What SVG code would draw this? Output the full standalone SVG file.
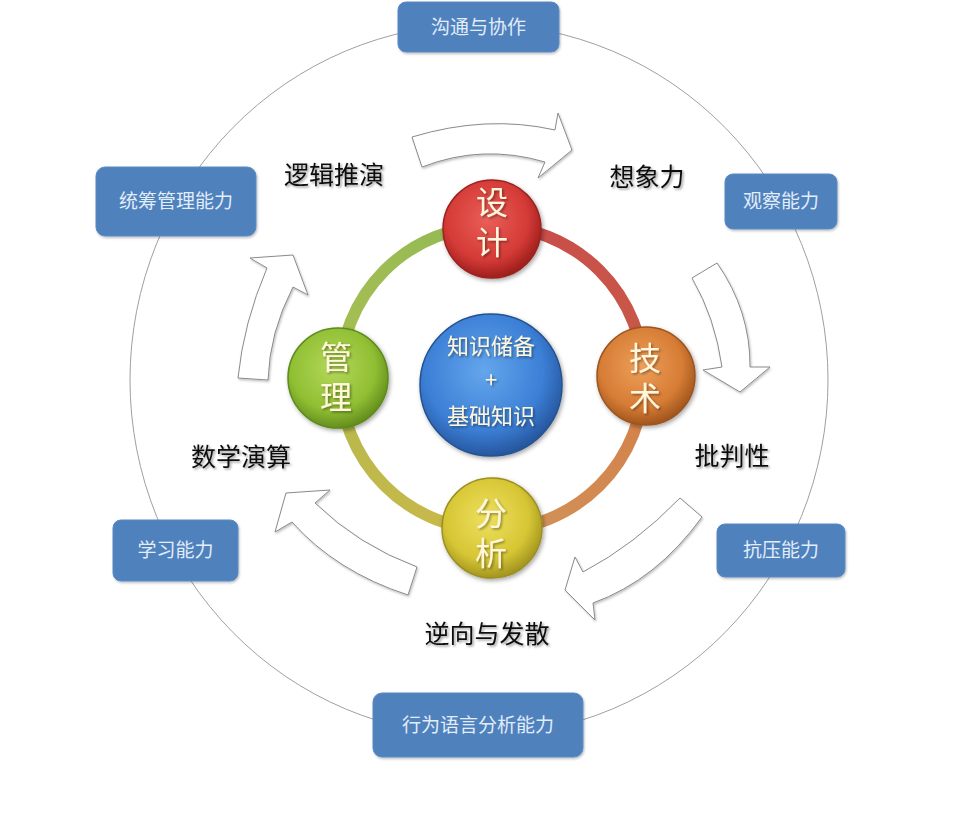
<svg xmlns="http://www.w3.org/2000/svg" width="964" height="816" viewBox="0 0 964 816">
<defs>
<filter id="sh" x="-20%" y="-20%" width="140%" height="140%"><feDropShadow dx="1.5" dy="2" stdDeviation="2" flood-color="#000" flood-opacity="0.35"/></filter>
<filter id="shs" x="-10%" y="-10%" width="120%" height="130%"><feDropShadow dx="1" dy="1.5" stdDeviation="1.2" flood-color="#000" flood-opacity="0.25"/></filter>
<filter id="tsh" x="-20%" y="-20%" width="140%" height="140%"><feDropShadow dx="1.5" dy="1.5" stdDeviation="0.8" flood-color="#000" flood-opacity="0.4"/></filter>
<radialGradient id="gRed" cx="45%" cy="40%" r="60%"><stop offset="0" stop-color="#ea5f58"/><stop offset="0.7" stop-color="#d43a36"/><stop offset="1" stop-color="#9e1f1c"/></radialGradient>
<radialGradient id="gOrg" cx="45%" cy="40%" r="60%"><stop offset="0" stop-color="#eea05a"/><stop offset="0.7" stop-color="#d67c35"/><stop offset="1" stop-color="#a2561d"/></radialGradient>
<radialGradient id="gYel" cx="45%" cy="40%" r="60%"><stop offset="0" stop-color="#eee060"/><stop offset="0.7" stop-color="#d6c634"/><stop offset="1" stop-color="#a39520"/></radialGradient>
<radialGradient id="gGrn" cx="45%" cy="40%" r="60%"><stop offset="0" stop-color="#b4d85a"/><stop offset="0.7" stop-color="#90bf33"/><stop offset="1" stop-color="#648f1e"/></radialGradient>
<radialGradient id="gBlu" cx="45%" cy="40%" r="60%"><stop offset="0" stop-color="#64a6ec"/><stop offset="0.7" stop-color="#3b7fd6"/><stop offset="1" stop-color="#27579f"/></radialGradient>
<linearGradient id="aTL" x1="0" y1="1" x2="1" y2="0"><stop offset="0" stop-color="#a9bf52"/><stop offset="1" stop-color="#92b955"/></linearGradient>
<linearGradient id="aTR" x1="0" y1="0" x2="1" y2="1"><stop offset="0" stop-color="#c94c4a"/><stop offset="1" stop-color="#c85a48"/></linearGradient>
<linearGradient id="aBR" x1="1" y1="0" x2="0" y2="1"><stop offset="0" stop-color="#d47f48"/><stop offset="1" stop-color="#d0945a"/></linearGradient>
<linearGradient id="aBL" x1="1" y1="1" x2="0" y2="0"><stop offset="0" stop-color="#cdb84a"/><stop offset="1" stop-color="#b5b94c"/></linearGradient>
</defs>
<style>
.box{fill:#4f81bd;stroke:#5a8ac4;stroke-width:1;filter:url(#shs)}
.bt{font-family:"Noto Sans CJK SC",sans-serif;font-size:19px;fill:#e2edfa;text-anchor:middle}
.lbl{font-family:"Noto Sans CJK SC",sans-serif;font-size:25px;fill:#111;text-anchor:middle;filter:url(#tsh)}
.ct{font-family:"Noto Sans CJK SC",sans-serif;font-size:32px;fill:#fff6dc;text-anchor:middle;writing-mode:vertical-rl;letter-spacing:8px;filter:url(#tsh)}
.cc{font-family:"Noto Sans CJK SC",sans-serif;font-size:22px;fill:#fff6dc;text-anchor:middle;filter:url(#tsh)}
.arw{fill:#fff;stroke:#8a8a8a;stroke-width:1;filter:url(#shs)}
.ring{fill:none;stroke-width:12}
.nd{stroke-width:1.5;filter:url(#sh)}
</style>
<rect width="964" height="816" fill="#fff"/>
<g id="connectors">
<ellipse cx="479" cy="380" rx="349" ry="356" fill="none" stroke="#a0a0a0" stroke-width="1"/>
<path class="ring" stroke="url(#aTL)" d="M340,378 A152,152 0 0 1 492,226"/>
<path class="ring" stroke="url(#aTR)" d="M492,226 A152,152 0 0 1 644,378"/>
<path class="ring" stroke="url(#aBR)" d="M644,378 A152,152 0 0 1 492,530"/>
<path class="ring" stroke="url(#aBL)" d="M492,530 A152,152 0 0 1 340,378"/>
</g>
<g id="cycle-arrows">
<path class="arw" d="M412,137 Q486.5,114.5 555,130 L558,113 L572,150 L538,178 L545,162 Q482.5,143.5 422,167 Z"/>
<path class="arw" d="M692,278 Q715,317.5 722,367 L703,370 L740,392 L770,367 L750,367 Q750.5,311 717,263 Z"/>
<path class="arw" d="M680,498 Q634.5,545 583,572 L575,557 L565,590 L595,620 L593,603 Q656.5,580 702,517 Z"/>
<path class="arw" d="M417,567 Q358,545 315,503 L330,490 L286,493 L275,532 L292,522 Q336,571.5 408,595 Z"/>
<path class="arw" d="M238,378 Q243.5,323 267,268 L250,258 L293,255 L308,295 L293,287 Q269.5,332.5 268,380 Z"/>
</g>
<g id="box-goutong"><rect class="box" x="398" y="2" width="161" height="50" rx="8"/><text class="bt" x="478.5" y="34">沟通与协作</text></g>
<g id="box-tongchou"><rect class="box" x="96" y="167" width="160" height="69" rx="9"/><text class="bt" x="176" y="208">统筹管理能力</text></g>
<g id="box-guancha"><rect class="box" x="725" y="174" width="112" height="55" rx="8"/><text class="bt" x="781" y="208">观察能力</text></g>
<g id="box-kangya"><rect class="box" x="717" y="524" width="128" height="53" rx="8"/><text class="bt" x="781" y="557">抗压能力</text></g>
<g id="box-xuexi"><rect class="box" x="113" y="520" width="125" height="61" rx="8"/><text class="bt" x="175.5" y="557">学习能力</text></g>
<g id="box-xingwei"><rect class="box" x="373" y="693" width="210" height="64" rx="9"/><text class="bt" x="478" y="732">行为语言分析能力</text></g>
<g id="label-luoji"><text class="lbl" x="334" y="184">逻辑推演</text></g>
<g id="label-xiangxiang"><text class="lbl" x="647" y="186">想象力</text></g>
<g id="label-pipan"><text class="lbl" x="732" y="465">批判性</text></g>
<g id="label-shuxue"><text class="lbl" x="241" y="466">数学演算</text></g>
<g id="label-nixiang"><text class="lbl" x="487" y="643">逆向与发散</text></g>
<g id="node-sheji"><circle class="nd" cx="492" cy="229" r="49" fill="url(#gRed)" stroke="#9a2421"/><text class="ct" x="492" y="226">设计</text></g>
<g id="node-jishu"><circle class="nd" cx="646" cy="376" r="49" fill="url(#gOrg)" stroke="#9c5520"/><text class="ct" x="645" y="382">技术</text></g>
<g id="node-fenxi"><circle class="nd" cx="492" cy="528" r="50" fill="url(#gYel)" stroke="#9d9020"/><text class="ct" x="491" y="537">分析</text></g>
<g id="node-guanli"><circle class="nd" cx="338" cy="378" r="50" fill="url(#gGrn)" stroke="#5f8a1d"/><text class="ct" x="336" y="381">管理</text></g>
<g id="node-center"><circle class="nd" cx="491" cy="385" r="71" fill="url(#gBlu)" stroke="#24528f"/><text class="cc" x="491" y="354">知识储备</text><text class="cc" x="491" y="388">+</text><text class="cc" x="491" y="424">基础知识</text></g>
</svg>
